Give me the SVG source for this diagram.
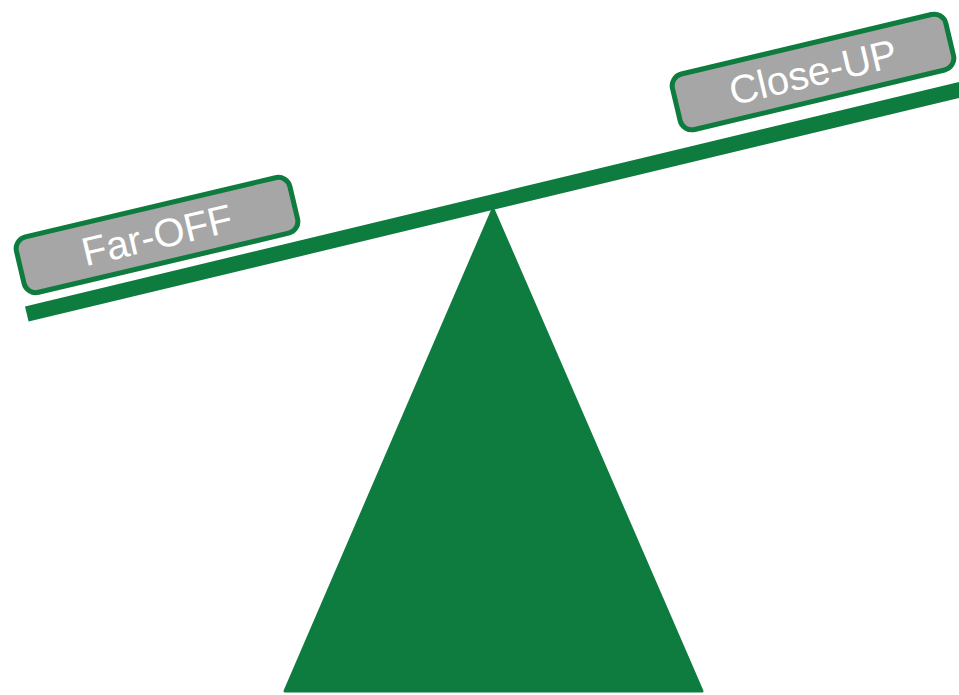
<svg xmlns="http://www.w3.org/2000/svg" width="959" height="695" viewBox="0 0 959 695">
<style>
.green{fill:#0E7B3F}
.box{fill:#A6A6A6;stroke:#0E7B3F;stroke-width:5}
.lbl{fill:#FFFFFF;font-family:"Liberation Sans",Arial,sans-serif;font-size:40px;text-anchor:middle}
</style>
<rect width="959" height="695" fill="#FFFFFF"/>
<g id="fulcrum">
<polygon class="green" points="493,209 702,691 285,691" stroke="#0E7B3F" stroke-width="3" stroke-linejoin="round"/>
</g>
<g id="beam">
<polygon class="green" points="25,306.5 965,80.5 968.6,95.6 28.6,321.6"/>
</g>
<g id="far-off" transform="translate(157,235) rotate(-13.3)">
<rect class="box" x="-140.5" y="-28.5" width="281" height="57" rx="12"/>
<text class="lbl" x="0" y="14">Far-OFF</text>
</g>
<g id="close-up" transform="translate(813,72) rotate(-13.4)">
<rect class="box" x="-140.5" y="-28.5" width="281" height="57" rx="12"/>
<text class="lbl" x="0" y="14">Close-UP</text>
</g>
</svg>
